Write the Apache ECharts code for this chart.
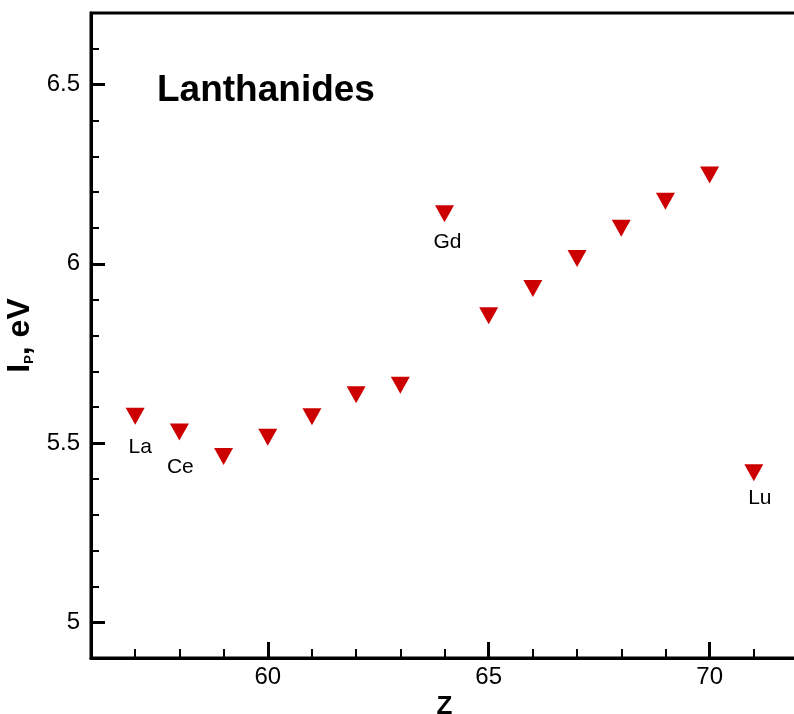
<!DOCTYPE html>
<html>
<head>
<meta charset="utf-8">
<script src="https://cdn.jsdelivr.net/npm/echarts@6/dist/echarts.min.js"></script>
<style>
  html, body { margin: 0; padding: 0; background: #fff; }
  #chart { width: 794px; height: 714px; }
</style>
</head>
<body>
<div id="chart"></div>
<script>
  // atomic number Z and first ionization potential, eV
  var zValues = [57, 58, 59, 60, 61, 62, 63, 64, 65, 66, 67, 68, 69, 70, 71];
  var ipValues = [5.575, 5.531, 5.462, 5.516, 5.573, 5.635, 5.661, 6.140,
                  5.855, 5.931, 6.015, 6.099, 6.175, 6.248, 5.417];
  var elementNames = { 57: 'La', 58: 'Ce', 64: 'Gd', 71: 'Lu' };
  var yTickLabels = [5, 5.5, 6, 6.5];
  var xTickLabels = [60, 65, 70];

  // label offsets under the markers
  var labelOffsets = { 57: [5, 12], 58: [1, 16], 64: [3, 10], 71: [6, 6] };

  var font = "'Liberation Sans', Arial, sans-serif";

  var seriesData = zValues.map(function (z, i) {
    var item = { value: [z, ipValues[i]] };
    if (elementNames[z]) {
      item.label = {
        show: true,
        formatter: elementNames[z],
        position: 'bottom',
        distance: 0,
        offset: labelOffsets[z],
        color: '#000',
        fontFamily: font,
        fontSize: 21
      };
    }
    return item;
  });

  var chart = echarts.init(document.getElementById('chart'));
  var option = {
    animation: false,
    title: {
      text: 'Lanthanides',
      left: 157,
      top: 72,
      padding: 0,
      textStyle: { fontFamily: font, fontSize: 37, fontWeight: 'bold', color: '#000' }
    },
    grid: {
      left: 91, top: 13, bottom: 56, right: -4,
      outerBoundsMode: 'none',
      containLabel: false,
      show: true, borderColor: '#000', borderWidth: 3
    },
    xAxis: [
      {
        type: 'value', min: 56, max: 72,
        name: 'Z', nameLocation: 'middle', nameGap: 27,
        nameTextStyle: { fontFamily: font, fontSize: 26, fontWeight: 'bold', color: '#000' },
        axisLine: { lineStyle: { color: '#000', width: 3 } },
        axisTick: { inside: true, length: 16, lineStyle: { color: '#000', width: 3 }, customValues: xTickLabels },
        axisLabel: { customValues: xTickLabels, margin: 7, fontFamily: font, fontSize: 24, color: '#000' },
        splitLine: { show: false }
      },
      {
        type: 'value', min: 56, max: 72, interval: 1, position: 'bottom',
        axisLine: { show: false },
        axisTick: { inside: true, length: 9, lineStyle: { color: '#000', width: 2 } },
        axisLabel: { show: false },
        splitLine: { show: false }
      }
    ],
    yAxis: [
      {
        type: 'value', min: 4.9, max: 6.7,
        name: '{a|I}{b|P}{a|, eV}', nameLocation: 'middle', nameGap: 46,
        nameTextStyle: {
          fontFamily: font, fontWeight: 'bold', color: '#000',
          rich: {
            a: { fontFamily: font, fontSize: 32, fontWeight: 'bold', color: '#000' },
            b: { fontFamily: font, fontSize: 13, fontWeight: 'bold', color: '#000', verticalAlign: 'bottom', padding: [12, 0, 0, 0] }
          }
        },
        axisLine: { lineStyle: { color: '#000', width: 3 } },
        axisTick: { inside: true, length: 14, lineStyle: { color: '#000', width: 3 }, customValues: yTickLabels },
        axisLabel: { customValues: yTickLabels, margin: 11, fontFamily: font, fontSize: 24, color: '#000' },
        splitLine: { show: false }
      },
      {
        type: 'value', min: 4.9, max: 6.7, interval: 0.1, position: 'left',
        axisLine: { show: false },
        axisTick: { inside: true, length: 8, lineStyle: { color: '#000', width: 2 } },
        axisLabel: { show: false },
        splitLine: { show: false }
      }
    ],
    series: [
      {
        type: 'scatter',
        xAxisIndex: 0,
        yAxisIndex: 0,
        symbol: 'path://M0,0 L20,0 L10,18 Z',
        symbolSize: [19, 17],
        itemStyle: { color: '#cc0000', opacity: 1 },
        data: seriesData
      }
    ]
  };
  chart.setOption(option);
</script>
</body>
</html>
